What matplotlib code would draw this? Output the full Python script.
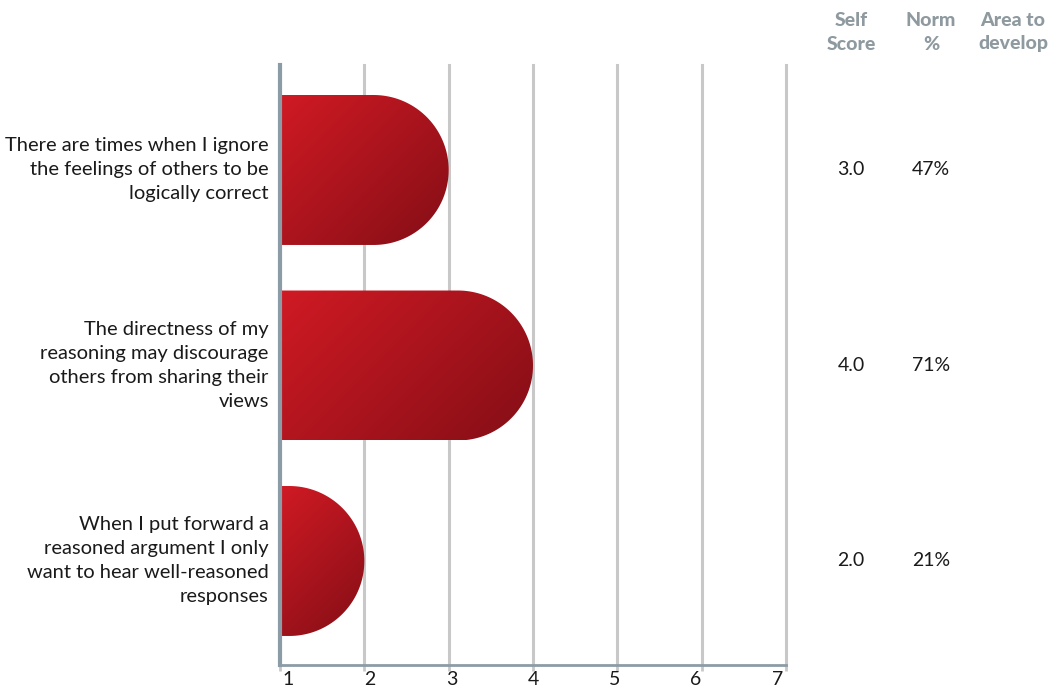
import numpy as np
import matplotlib
matplotlib.use("Agg")
import matplotlib.pyplot as plt
from matplotlib.path import Path
from matplotlib.patches import PathPatch
from matplotlib.transforms import ScaledTranslation

plt.rcParams['font.family'] = ['Lato', 'DejaVu Sans']

statements = [
    "There are times when I ignore\nthe feelings of others to be\nlogically correct",
    "The directness of my\nreasoning may discourage\nothers from sharing their\nviews",
    "When I put forward a\nreasoned argument I only\nwant to hear well-reasoned\nresponses",
]
self_scores = [3.0, 4.0, 2.0]
norm_pct = [47, 71, 21]
scale_ticks = [1, 2, 3, 4, 5, 6, 7]
col_headers = ["Self\nScore", "Norm\n%", "Area to\ndevelop"]

W, H, DPI = 1056, 688, 100
fig = plt.figure(figsize=(W / DPI, H / DPI), dpi=DPI)
ax = fig.add_axes([280 / W, 1 - 665 / H, (786 - 280) / W, (665 - 65) / H])

Y_TOP, Y_BOT = -0.537, 2.532
ax.set_xlim(1, 7)
ax.set_ylim(Y_BOT, Y_TOP)

grid_c = "#C8C8C8"
spine_c = "#8C9CA6"
head_c = "#8E9AA0"

for x in scale_ticks[1:]:
    ax.axvline(x, color=grid_c, lw=2.2, zorder=0, clip_on=False)

bar_h = 0.767
rx_max = 0.89
c0 = np.array([208, 26, 36]) / 255.0
c1 = np.array([132, 14, 22]) / 255.0

for i, v in enumerate(self_scores):
    y0, y1 = i - bar_h / 2, i + bar_h / 2
    ry = bar_h / 2
    rx = min(rx_max, v - 1)
    xc = v - rx
    t = np.linspace(-np.pi / 2, np.pi / 2, 120)
    arc_x = xc + rx * np.cos(t)
    arc_y = i + ry * np.sin(t)
    verts = [(1, y0), (xc, y0)] + list(zip(arc_x, arc_y)) + [(xc, y1), (1, y1), (1, y0)]
    codes = [Path.MOVETO] + [Path.LINETO] * (len(verts) - 2) + [Path.CLOSEPOLY]
    patch = PathPatch(Path(verts, codes), facecolor="none", edgecolor="none", zorder=2)
    ax.add_patch(patch)
    # diagonal shading: light at top-left, dark at bottom-right
    nx, ny = 200, 100
    gx, gy = np.meshgrid(np.linspace(0, 1, nx), np.linspace(0, 1, ny))
    wpx = (v - 1) * 84.3
    u = (gx * wpx + gy * 150) / (wpx + 150)
    img = c0[None, None, :] * (1 - u[..., None]) + c1[None, None, :] * u[..., None]
    # row 0 of img is the top of the bar (y0 on an inverted axis)
    im = ax.imshow(img, extent=(1, v, y1, y0), origin="upper", aspect="auto",
                   interpolation="bilinear", zorder=2)
    im.set_clip_path(patch)

ax.set_xlim(1, 7)
ax.set_ylim(Y_BOT, Y_TOP)

for s in ["top", "right"]:
    ax.spines[s].set_visible(False)
ax.spines["left"].set_color(spine_c)
ax.spines["left"].set_linewidth(3)
ax.spines["bottom"].set_color(spine_c)
ax.spines["bottom"].set_linewidth(2)
ax.spines["left"].set_zorder(5)

ax.set_yticks([])
ax.set_xticks(scale_ticks)
ax.set_xticklabels([str(t) for t in scale_ticks], fontsize=14, color="#1a1a1a")
ax.tick_params(axis="x", length=4, width=2, color=grid_c, pad=0)
for k, lab in enumerate(ax.get_xticklabels()):
    dx = (6 - 12 * k / 6) / 72.0
    lab.set_transform(lab.get_transform() + ScaledTranslation(dx, 0, fig.dpi_scale_trans))

# statement labels to the left of the axis
for i, s in enumerate(statements):
    ax.text(-0.022, i, s, transform=ax.get_yaxis_transform(), ha="right", va="center",
            fontsize=14.5, color="#1a1a1a", linespacing=1.5)

# right-hand columns
col_x = [851 / W, 931 / W, 1013 / W]
for cx, hdr in zip(col_x, col_headers):
    fig.text(cx, 1 - 32 / H, hdr, ha="center", va="center", fontsize=14,
             fontweight="black", color=head_c, linespacing=1.5)

for i, (sc, nm) in enumerate(zip(self_scores, norm_pct)):
    yf = ax.transData.transform((1, i))[1]
    yf = fig.transFigure.inverted().transform((0, yf))[1]
    fig.text(col_x[0], yf, f"{sc:.1f}", ha="center", va="center", fontsize=14, color="#1a1a1a")
    fig.text(col_x[1], yf, f"{nm}%", ha="center", va="center", fontsize=14, color="#1a1a1a")

fig.savefig("out.png", dpi=DPI)
